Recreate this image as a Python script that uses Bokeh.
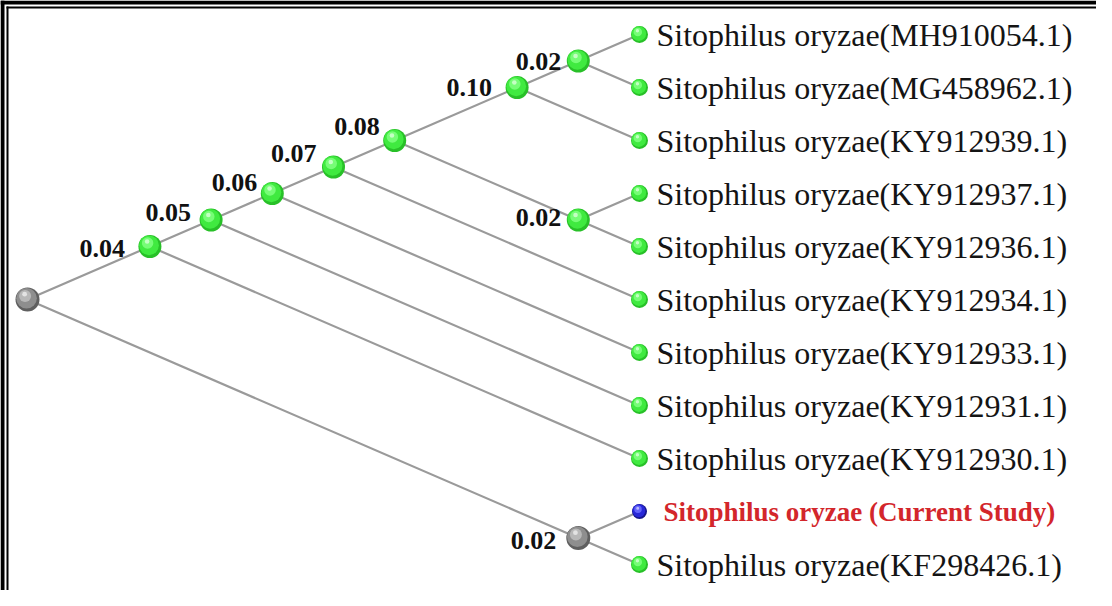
from bokeh.plotting import figure
from bokeh.models import Range1d, ColumnDataSource
from bokeh.embed import file_html
from bokeh.resources import INLINE
from bokeh.core.properties import value

# ---------------- data ----------------
leaf_labels = [
    "Sitophilus oryzae(MH910054.1)",
    "Sitophilus oryzae(MG458962.1)",
    "Sitophilus oryzae(KY912939.1)",
    "Sitophilus oryzae(KY912937.1)",
    "Sitophilus oryzae(KY912936.1)",
    "Sitophilus oryzae(KY912934.1)",
    "Sitophilus oryzae(KY912933.1)",
    "Sitophilus oryzae(KY912931.1)",
    "Sitophilus oryzae(KY912930.1)",
    "Sitophilus oryzae (Current Study)",
    "Sitophilus oryzae(KF298426.1)",
]
leaf_group = ["ref"] * 9 + ["study", "ref"]

clade_ids = ["root", "c04", "c05", "c06", "c07", "c08", "c10", "c02a", "c02b", "c02c"]
clade_values = ["", "0.04", "0.05", "0.06", "0.07", "0.08", "0.10", "0.02", "0.02", "0.02"]
clade_children = [
    ["c04", "c02c"],
    ["c05", "L8"],
    ["c06", "L7"],
    ["c07", "L6"],
    ["c08", "L5"],
    ["c10", "c02b"],
    ["c02a", "L2"],
    ["L0", "L1"],
    ["L3", "L4"],
    ["L9", "L10"],
]
clade_group = ["grey", "green", "green", "green", "green", "green", "green", "green", "green", "grey"]

# label placement (screen px, style only)
label_dx = [0, -25, -20, -15, -17, -15, -25, -17, -17, -22]
label_dy = [0, 2, -8, -11, -14, -14, 0, 0, -3, 2]

# ---------------- layout (slanted cladogram) ----------------
W, H = 1096, 590
PX_X, PX_Y = 122.4, 53.0
TIP_FX, LEAF0_FY = 639.0, 34.0

children = dict(zip(clade_ids, clade_children))


def leaf_span(nid):
    if nid.startswith("L"):
        i = int(nid[1:])
        return i, i
    spans = [leaf_span(c) for c in children[nid]]
    return min(s[0] for s in spans), max(s[1] for s in spans)


def pos(nid):
    lo, hi = leaf_span(nid)
    return -(hi - lo) / 2.0, (hi + lo) / 2.0


x0, y0, x1, y1 = [], [], [], []
for cid in clade_ids:
    px, py = pos(cid)
    for ch in children[cid]:
        cx, cy = pos(ch)
        x0.append(px); y0.append(py); x1.append(cx); y1.append(cy)


def fx2x(fx):
    return (fx - TIP_FX) / PX_X


def fy2y(fy):
    return (fy - LEAF0_FY) / PX_Y


p = figure(width=W, height=H,
           x_range=Range1d(fx2x(0), fx2x(W)),
           y_range=Range1d(start=fy2y(H), end=fy2y(0)),
           toolbar_location=None, output_backend="svg",
           x_axis_location=None, y_axis_location=None,
           min_border=0)
p.grid.visible = False
p.outline_line_color = None
p.background_fill_color = "white"
p.border_fill_color = "white"

# frame (double border on top / left)
p.quad(left=[fx2x(0), fx2x(0), fx2x(6), fx2x(6)],
       right=[fx2x(W + 10), fx2x(4), fx2x(W + 10), fx2x(8)],
       top=[fy2y(0), fy2y(0), fy2y(6), fy2y(6)],
       bottom=[fy2y(4), fy2y(H + 10), fy2y(8), fy2y(H + 10)],
       fill_color="black", line_color=None)

# branches
p.segment(x0=x0, y0=y0, x1=x1, y1=y1, line_color="#9a9a9a", line_width=2.2)

# spheres
palettes = {
    "green": ["#28c028", "#40ea40", "#7cff7c", "#d8ffd8"],
    "grey": ["#5f5f5f", "#8e8e8e", "#bcbcbc", "#eeeeee"],
    "blue": ["#16168c", "#2828d8", "#6a6aff", "#d0d0ff"],
}


def spheres(xs, ys, size, pal):
    layers = [(1.0, 0.0, 0.0, 1.0), (0.86, -0.04, -0.05, 1.0),
              (0.5, -0.10, -0.15, 0.9), (0.2, -0.12, -0.22, 0.8)]
    for (k, ox, oy, a), col in zip(layers, palettes[pal]):
        p.scatter(x=[x + ox * size / PX_X for x in xs],
                  y=[y + oy * size / PX_Y for y in ys],
                  size=size * k, marker="circle",
                  fill_color=col, fill_alpha=a, line_color=None)


for cid, grp in zip(clade_ids, clade_group):
    cx, cy = pos(cid)
    spheres([cx], [cy], 24 if grp == "grey" else 23, grp)

for i, grp in enumerate(leaf_group):
    if grp == "study":
        spheres([0.0], [float(i)], 15, "blue")
    else:
        spheres([0.0], [float(i)], 17, "green")

# leaf labels
ref_idx = [i for i, g in enumerate(leaf_group) if g == "ref"]
study_idx = [i for i, g in enumerate(leaf_group) if g == "study"]
p.text(x=[0.0] * len(ref_idx), y=[float(i) for i in ref_idx],
       text=[leaf_labels[i] for i in ref_idx],
       x_offset=17, y_offset=0, text_align="left", text_baseline="middle",
       text_font=value("Liberation Serif"), text_font_size="32px",
       text_color="#141414")
p.text(x=[0.0] * len(study_idx), y=[float(i) for i in study_idx],
       text=[leaf_labels[i] for i in study_idx],
       x_offset=24, y_offset=0, text_align="left", text_baseline="middle",
       text_font=value("Liberation Serif"), text_font_size="27px",
       text_font_style="bold", text_color="#d3262b")

# node value labels
lab = [(pos(c)[0], pos(c)[1], v, dx, dy)
       for c, v, dx, dy in zip(clade_ids, clade_values, label_dx, label_dy) if v]
src = ColumnDataSource(dict(x=[l[0] for l in lab], y=[l[1] for l in lab],
                            t=[l[2] for l in lab], dx=[l[3] for l in lab],
                            dy=[l[4] for l in lab]))
p.text(x="x", y="y", text="t", x_offset="dx", y_offset="dy", source=src,
       text_align="right", text_baseline="middle",
       text_font=value("Liberation Serif"), text_font_size="26px",
       text_font_style="bold", text_color="#111111")

open("out.html", "w").write(file_html(p, INLINE))
